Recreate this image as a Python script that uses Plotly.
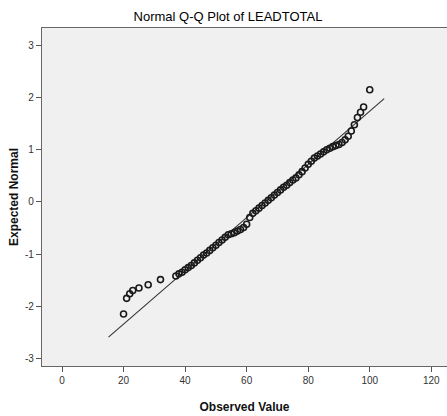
import plotly.graph_objects as go

# Observed values (distinct LEADTOTAL scores) and their expected normal quantiles
observed = [20, 21, 22, 23, 25, 28, 32,
            37, 38, 39, 40, 41, 42, 43, 44, 45, 46, 47, 48, 49, 50,
            51, 52, 53, 54, 55, 56, 57, 58, 59, 60,
            61, 62, 63, 64, 65, 66, 67, 68, 69, 70,
            71, 72, 73, 74, 75, 76, 77, 78, 79, 80,
            81, 82, 83, 84, 85, 86, 87, 88, 89, 90,
            91, 92, 93, 94, 95, 96, 97, 98, 100]
expected = [-2.15, -1.85, -1.76, -1.70, -1.65, -1.59, -1.49,
            -1.42, -1.38, -1.35, -1.30, -1.26, -1.22, -1.17, -1.12, -1.07, -1.02, -0.98, -0.93, -0.88, -0.83,
            -0.78, -0.73, -0.68, -0.63, -0.61, -0.59, -0.56, -0.53, -0.49, -0.43,
            -0.30, -0.22, -0.17, -0.12, -0.07, -0.02, 0.03, 0.08, 0.13, 0.18,
            0.23, 0.28, 0.32, 0.37, 0.42, 0.46, 0.52, 0.58, 0.65, 0.72,
            0.78, 0.84, 0.88, 0.92, 0.96, 1.00, 1.03, 1.06, 1.08, 1.10,
            1.14, 1.19, 1.26, 1.36, 1.48, 1.62, 1.72, 1.82, 2.15]

# Reference normal line parameters
line_mean = 65.9
line_sd = 19.6
line_x = [15.1, 104.7]
line_z = [(v - line_mean) / line_sd for v in line_x]

x_ticks = [0, 20, 40, 60, 80, 100, 120]
y_ticks = [-3, -2, -1, 0, 1, 2, 3]

FONT = "Arial, Liberation Sans, sans-serif"

fig = go.Figure()
fig.add_trace(go.Scatter(
    x=line_x, y=line_z, mode="lines",
    line=dict(color="#333333", width=1.1),
    hoverinfo="skip", showlegend=False))
fig.add_trace(go.Scatter(
    x=observed, y=expected, mode="markers",
    marker=dict(symbol="circle-open", size=6, color="#1a1a1a",
                line=dict(width=1.6, color="#1a1a1a")),
    showlegend=False))

fig.update_layout(
    width=447, height=416,
    margin=dict(l=42, r=0, t=28, b=50),
    paper_bgcolor="white",
    plot_bgcolor="#f0f0f0",
    font=dict(family=FONT, color="#222222"),
    title=dict(text="Normal Q-Q Plot of LEADTOTAL", x=228/447, xref="container",
               xanchor="center", y=1 - 16/416, yref="container", yanchor="middle",
               font=dict(size=13, color="#000000", family=FONT)),
)
fig.update_xaxes(
    range=[-6.5, 125.1], tickvals=x_ticks, ticktext=[str(v) for v in x_ticks],
    showgrid=False, zeroline=False,
    showline=True, linecolor="#666666", linewidth=1.3, mirror=True,
    ticks="outside", ticklen=5, tickcolor="#555555", tickwidth=1,
    tickfont=dict(size=10, color="#333333", family=FONT),
    title=dict(text="<b>Observed Value</b>", font=dict(size=12, color="#111111", family=FONT),
               standoff=17),
)
fig.update_yaxes(
    range=[-3.147, 3.335], tickvals=y_ticks, ticktext=[str(v) for v in y_ticks],
    showgrid=False, zeroline=False,
    showline=True, linecolor="#666666", linewidth=1.3, mirror=True,
    ticks="outside", ticklen=5, tickcolor="#555555", tickwidth=1,
    tickfont=dict(size=10, color="#333333", family=FONT),
    title=dict(text="<b>Expected Normal</b>", font=dict(size=12, color="#111111", family=FONT),
               standoff=3),
)

fig.write_html("out.html")
